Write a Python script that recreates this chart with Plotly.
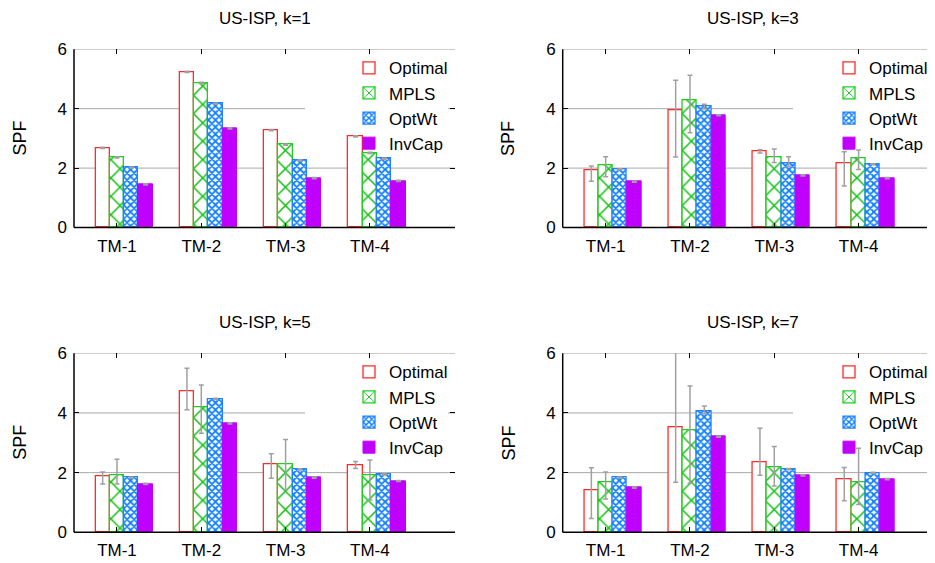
import plotly.graph_objects as go

categories = ["TM-1", "TM-2", "TM-3", "TM-4"]
series_names = ["Optimal", "MPLS", "OptWt", "InvCap"]
panel_titles = ["US-ISP, k=1", "US-ISP, k=3", "US-ISP, k=5", "US-ISP, k=7"]
y_tick_values = [0, 2, 4, 6]

# k=1
k1_optimal = [2.68, 5.24, 3.28, 3.07]
k1_mpls = [2.36, 4.87, 2.79, 2.51]
k1_optwt = [2.02, 4.17, 2.26, 2.32]
k1_invcap = [1.45, 3.34, 1.66, 1.57]
k1_optimal_hi = [2.70, 5.26, 3.30, 3.09]
k1_optimal_lo = [2.66, 5.22, 3.26, 3.05]
k1_mpls_hi = [2.38, 4.89, 2.81, 2.53]
k1_mpls_lo = [2.34, 4.85, 2.77, 2.49]
k1_optwt_hi = [2.04, 4.19, 2.28, 2.34]
k1_optwt_lo = [2.00, 4.15, 2.24, 2.30]
k1_invcap_hi = [1.47, 3.36, 1.68, 1.59]
k1_invcap_lo = [1.43, 3.32, 1.64, 1.55]

# k=3
k3_optimal = [1.92, 3.93, 2.56, 2.15]
k3_mpls = [2.10, 4.29, 2.38, 2.33]
k3_optwt = [1.96, 4.08, 2.17, 2.13]
k3_invcap = [1.54, 3.78, 1.75, 1.66]
k3_optimal_hi = [2.07, 4.96, 2.62, 2.55]
k3_optimal_lo = [1.56, 2.37, 2.51, 1.40]
k3_mpls_hi = [2.38, 5.13, 2.64, 2.61]
k3_mpls_lo = [1.71, 3.19, 2.19, 1.95]
k3_optwt_hi = [1.98, 4.15, 2.38, 2.15]
k3_optwt_lo = [1.94, 3.99, 2.05, 2.11]
k3_invcap_hi = [1.56, 3.80, 1.77, 1.68]
k3_invcap_lo = [1.52, 3.76, 1.73, 1.64]

# k=5
k5_optimal = [1.89, 4.71, 2.27, 2.23]
k5_mpls = [1.91, 4.20, 2.27, 1.90]
k5_optwt = [1.83, 4.47, 2.11, 1.94]
k5_invcap = [1.62, 3.65, 1.83, 1.72]
k5_optimal_hi = [2.02, 5.50, 2.63, 2.37]
k5_optimal_lo = [1.62, 4.11, 1.81, 2.14]
k5_mpls_hi = [2.45, 4.94, 3.11, 2.42]
k5_mpls_lo = [1.62, 3.32, 1.43, 1.08]
k5_optwt_hi = [1.85, 4.49, 2.13, 1.96]
k5_optwt_lo = [1.81, 4.45, 2.09, 1.92]
k5_invcap_hi = [1.64, 3.67, 1.85, 1.74]
k5_invcap_lo = [1.60, 3.63, 1.81, 1.70]

# k=7
k7_optimal = [1.40, 3.51, 2.36, 1.76]
k7_mpls = [1.67, 3.42, 2.18, 1.69]
k7_optwt = [1.83, 4.07, 2.12, 1.99]
k7_invcap = [1.50, 3.21, 1.91, 1.78]
k7_optimal_hi = [2.16, 6.10, 3.49, 2.17]
k7_optimal_lo = [0.46, 1.68, 1.91, 1.06]
k7_mpls_hi = [2.02, 4.90, 2.88, 2.82]
k7_mpls_lo = [1.12, 1.65, 1.55, 0.93]
k7_optwt_hi = [1.85, 4.23, 2.14, 2.01]
k7_optwt_lo = [1.81, 3.97, 2.10, 1.97]
k7_invcap_hi = [1.52, 3.23, 1.93, 1.80]
k7_invcap_lo = [1.48, 3.19, 1.89, 1.76]

panels = [
    [(k1_optimal, k1_optimal_hi, k1_optimal_lo), (k1_mpls, k1_mpls_hi, k1_mpls_lo),
     (k1_optwt, k1_optwt_hi, k1_optwt_lo), (k1_invcap, k1_invcap_hi, k1_invcap_lo)],
    [(k3_optimal, k3_optimal_hi, k3_optimal_lo), (k3_mpls, k3_mpls_hi, k3_mpls_lo),
     (k3_optwt, k3_optwt_hi, k3_optwt_lo), (k3_invcap, k3_invcap_hi, k3_invcap_lo)],
    [(k5_optimal, k5_optimal_hi, k5_optimal_lo), (k5_mpls, k5_mpls_hi, k5_mpls_lo),
     (k5_optwt, k5_optwt_hi, k5_optwt_lo), (k5_invcap, k5_invcap_hi, k5_invcap_lo)],
    [(k7_optimal, k7_optimal_hi, k7_optimal_lo), (k7_mpls, k7_mpls_hi, k7_mpls_lo),
     (k7_optwt, k7_optwt_hi, k7_optwt_lo), (k7_invcap, k7_invcap_hi, k7_invcap_lo)],
]

# page body has an 8px margin, so figure coordinates = screen - 8
OFF = 8
W, H = 935 - OFF, 563 - OFF
FONT = "Liberation Sans, Arial, Helvetica, sans-serif"
GRID = "#a8a8a8"

styles = [
    dict(color="white", line=dict(color="#ff2a2a", width=1.3)),
    dict(color="white", line=dict(color="#22cc22", width=1.3),
         pattern=dict(shape="x", fgcolor="#10c010", bgcolor="white", size=13, solidity=0.22, fillmode="replace")),
    dict(color="white", line=dict(color="#2080ff", width=1.3),
         pattern=dict(shape="x", fgcolor="#1080ff", bgcolor="white", size=5, solidity=0.6, fillmode="replace")),
    dict(color="#c000ff", line=dict(color="#c000ff", width=1)),
]

bar_w = 0.17
px_per_cat = 84.3
# panel geometry in screen pixels: (left, right, top, bottom)
geo = [
    (74, 455, 49.3, 227.5),
    (562.7, 935, 49.3, 227.5),
    (74, 455, 353.3, 532.3),
    (562.7, 935, 353.3, 532.3),
]
legend_right = [453, 933, 453, 933]
keybox = [(305, 448), (793, 933), (305, 448), (793, 933)]

fig = go.Figure()
layout_updates = {}
annotations = []
shapes = []

for p in range(4):
    ax = "" if p == 0 else str(p + 1)
    xa, ya = "x" + ax, "y" + ax
    leg = "legend" if p == 0 else "legend" + str(p + 1)
    left, right, top, bottom = geo[p]
    xmax = -0.51 + (right - left) / px_per_cat
    for j, name in enumerate(series_names):
        vals, hi, lo = panels[p][j]
        fig.add_trace(go.Bar(
            x=categories, y=vals, name=name,
            width=bar_w, offset=(j - 1) * bar_w - bar_w / 2,
            marker=styles[j],
            error_y=dict(type="data", symmetric=False,
                         array=[h - v for h, v in zip(hi, vals)],
                         arrayminus=[v - l for v, l in zip(vals, lo)],
                         color="#a0a0a0", thickness=1.5, width=2.5),
            xaxis=xa, yaxis=ya, legend=leg, showlegend=True,
        ))
    layout_updates["xaxis" + ax] = dict(
        domain=[(left - OFF) / W, min(1.0, (right - OFF) / W)], anchor=ya, type="category",
        categoryorder="array", categoryarray=categories, automargin=False,
        range=[-0.51, xmax], showgrid=False, zeroline=False, showline=False,
        ticks="inside", ticklen=5, tickcolor="black", mirror="ticks",
        tickfont=dict(family=FONT, size=17, color="black"), ticklabelstandoff=6,
    )
    layout_updates["yaxis" + ax] = dict(
        domain=[1 - (bottom - OFF) / H, 1 - (top - OFF) / H], anchor=xa, automargin=False,
        range=[0, 6], tickvals=y_tick_values, showgrid=False,
        zeroline=False, showline=False,
        ticks="inside", ticklen=5, tickcolor="black", mirror="ticks",
        tickfont=dict(family=FONT, size=17, color="black"), ticklabelstandoff=6,
    )
    xd, yd = xa + " domain", ya + " domain"
    # grid lines at the y ticks; the one crossing the key is interrupted there
    kx0, kx1 = keybox[p]
    gap0 = (kx0 - left) / (right - left)
    gap1 = min(1.0, (kx1 - left) / (right - left))
    key_top_val = 6 * (bottom - (top + 3)) / (bottom - top)
    key_bot_val = 6 * (bottom - (top + 92)) / (bottom - top)
    for gv in y_tick_values[1:]:
        if key_bot_val <= gv <= key_top_val:
            segs = [(0, gap0), (gap1, 1)]
        else:
            segs = [(0, 1)]
        for a, b in segs:
            if b - a > 0.001:
                shapes.append(dict(type="line", xref=xd, yref=ya, layer="below",
                                   x0=a, x1=b, y0=gv, y1=gv, line=dict(color=GRID, width=1)))
    # axis border lines (left and bottom)
    shapes.append(dict(type="line", xref=xd, yref=yd,
                       x0=0, x1=0, y0=0, y1=1, line=dict(color="black", width=1.5)))
    shapes.append(dict(type="line", xref=xd, yref=yd,
                       x0=0, x1=1, y0=0, y1=0, line=dict(color="black", width=1.5)))
    full_right = left + 381
    annotations.append(dict(text=panel_titles[p], xref="paper", yref="paper",
                            x=((left + full_right) / 2 - OFF) / W, y=1 - (top - 31 - OFF) / H,
                            showarrow=False, xanchor="center", yanchor="middle",
                            font=dict(family=FONT, size=17, color="black")))
    annotations.append(dict(text="SPF", xref="paper", yref="paper",
                            x=(left - 54 - OFF) / W, y=1 - ((top + bottom) / 2 - OFF) / H,
                            showarrow=False, textangle=-90, xanchor="center", yanchor="middle",
                            font=dict(family=FONT, size=18, color="black")))
    layout_updates[leg] = dict(
        x=(legend_right[p] - OFF) / W, y=1 - (top + 1 - OFF) / H, xanchor="right", yanchor="top",
        bgcolor="rgba(0,0,0,0)", borderwidth=0, font=dict(family=FONT, size=17, color="black"),
        tracegroupgap=0, itemwidth=30,
    )

fig.update_layout(
    width=W, height=H, margin=dict(l=0, r=0, t=0, b=0, autoexpand=False),
    paper_bgcolor="white", plot_bgcolor="white",
    barmode="overlay", bargap=0,
    annotations=annotations, shapes=shapes,
    font=dict(family=FONT, color="black"),
    **layout_updates,
)

fig.write_html("out.html")
